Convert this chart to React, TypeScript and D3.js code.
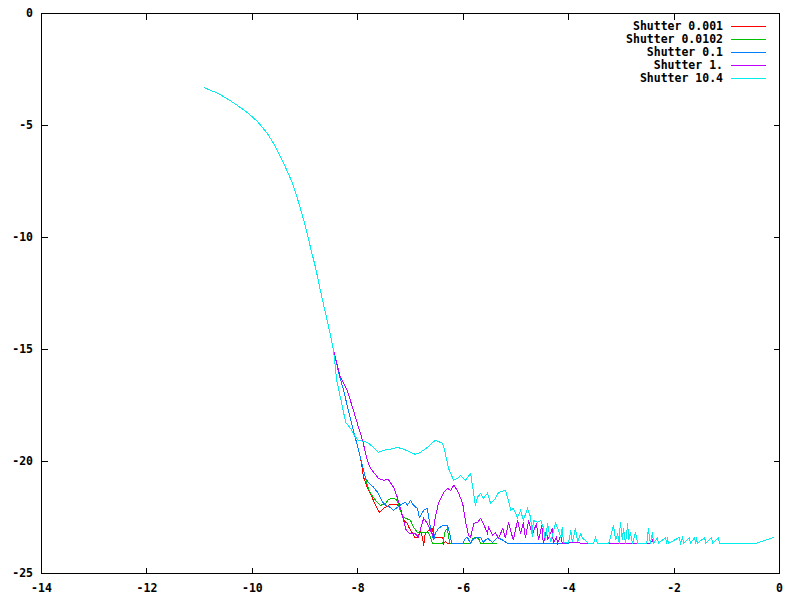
import React from 'react';
import * as d3 from 'd3';

type Pt = [number, number];

const seriesNames = ['Shutter 0.001', 'Shutter 0.0102', 'Shutter 0.1', 'Shutter 1.', 'Shutter 10.4'];
const seriesColors = ['#ff0000', '#00c000', '#0080ff', '#c000ff', '#00eeee'];
const xTickValues = [-14, -12, -10, -8, -6, -4, -2, 0];
const yTickValues = [0, -5, -10, -15, -20, -25];

const commonHead: Pt[] = [
  [-10.91, -3.31], [-10.64, -3.58], [-10.36, -3.98], [-10.09, -4.43], [-9.90, -4.83], [-9.71, -5.37],
  [-9.56, -5.95], [-9.41, -6.66], [-9.24, -7.56], [-9.12, -8.45], [-8.99, -9.53], [-8.90, -10.42],
  [-8.80, -11.36], [-8.67, -12.79], [-8.56, -13.91], [-8.46, -15.03],
];

const rgbJoin: Pt[] = [[-8.35, -16.15], [-8.27, -16.82], [-8.12, -18.29], [-7.95, -19.81]];

const redTail: Pt[] = [
  [-7.89, -20.71], [-7.82, -21.15], [-7.72, -21.65], [-7.66, -21.96], [-7.59, -22.27], [-7.51, -22.09],
  [-7.44, -22.0], [-7.38, -21.91], [-7.28, -21.91], [-7.23, -21.96], [-7.17, -22.32], [-7.13, -22.63],
  [-7.06, -22.76], [-7.02, -22.99], [-6.96, -23.21], [-6.92, -23.39], [-6.87, -23.39], [-6.81, -23.08],
  [-6.77, -23.43], [-6.75, -23.75], [-6.72, -23.21], [-6.66, -23.08], [-6.58, -22.99], [-6.56, -23.39],
  [-6.39, -23.39], [-6.37, -23.66], [-6.34, -23.57], [-6.30, -23.66], [-6.05, -23.66],
];

const greenTail: Pt[] = [
  [-7.85, -20.75], [-7.82, -21.06], [-7.76, -21.42], [-7.66, -21.74], [-7.57, -21.96], [-7.47, -21.87],
  [-7.42, -21.69], [-7.32, -21.65], [-7.25, -21.74], [-7.21, -22.09], [-7.13, -22.5], [-7.08, -22.54],
  [-7.0, -22.63], [-6.94, -22.94], [-6.87, -23.17], [-6.66, -23.17], [-6.62, -23.39], [-6.58, -23.66],
  [-6.39, -23.66], [-6.34, -23.08], [-6.30, -22.99], [-6.26, -23.61], [-6.24, -23.66], [-5.86, -23.66],
  [-5.82, -23.43], [-5.77, -23.39], [-5.71, -23.43], [-5.67, -23.66], [-5.35, -23.66],
];

const blueTail: Pt[] = [
  [-7.85, -20.75], [-7.80, -20.93], [-7.70, -21.15], [-7.61, -21.42], [-7.53, -21.82], [-7.47, -21.96],
  [-7.38, -22.05], [-7.32, -22.18], [-7.25, -22.05], [-7.15, -21.87], [-7.09, -21.82], [-7.06, -21.96],
  [-7.0, -21.74], [-6.94, -21.96], [-6.87, -22.09], [-6.83, -22.5], [-6.75, -22.18], [-6.68, -22.09],
  [-6.66, -22.41], [-6.62, -22.99], [-6.56, -23.52], [-6.53, -23.21], [-6.47, -22.99], [-6.39, -22.85],
  [-6.30, -22.85], [-6.26, -23.17], [-6.22, -23.66], [-6.01, -23.66], [-5.96, -23.43], [-5.92, -23.39],
  [-5.86, -23.66], [-5.80, -23.43], [-5.71, -23.39], [-5.67, -23.39], [-5.62, -23.61], [-5.54, -23.43],
  [-5.44, -23.61], [-5.35, -23.39], [-5.24, -23.52], [-5.16, -23.66], [-4.0, -23.66],
];

const purpleTail: Pt[] = [
  [-8.33, -16.23], [-8.20, -16.82], [-8.10, -17.58], [-8.01, -18.29], [-7.91, -19.05], [-7.82, -19.95],
  [-7.76, -20.3], [-7.70, -20.48], [-7.61, -20.75], [-7.51, -20.84], [-7.42, -20.8], [-7.32, -21.15],
  [-7.25, -21.6], [-7.19, -22.09], [-7.13, -22.63], [-7.08, -23.08], [-7.02, -23.21], [-6.91, -23.21],
  [-6.85, -23.39], [-6.81, -22.99], [-6.75, -22.54], [-6.68, -22.76], [-6.62, -23.08], [-6.58, -23.3],
  [-6.53, -22.5], [-6.47, -21.87], [-6.37, -21.38], [-6.30, -21.2], [-6.24, -21.29], [-6.18, -21.06],
  [-6.11, -21.29], [-6.01, -21.87], [-5.96, -22.63], [-5.90, -23.3], [-5.86, -23.39], [-5.80, -22.76],
  [-5.73, -22.72], [-5.67, -22.54], [-5.62, -22.76], [-5.54, -23.21], [-5.52, -22.94], [-5.44, -23.3],
  [-5.39, -23.17], [-5.33, -23.43], [-5.25, -22.99], [-5.20, -23.43], [-5.14, -22.72], [-5.10, -23.08],
  [-5.05, -23.52], [-4.97, -22.63], [-4.91, -23.21], [-4.86, -22.72], [-4.82, -23.43], [-4.76, -22.63],
  [-4.69, -23.3], [-4.61, -22.76], [-4.57, -23.52], [-4.51, -22.85], [-4.48, -23.66], [-4.42, -23.08],
  [-4.40, -23.52], [-4.31, -22.99], [-4.29, -23.66], [-4.23, -23.39], [-4.21, -23.66], [-4.15, -23.3],
  [-4.12, -23.66], [-3.96, -23.61], [-3.64, -23.66], [-3.53, -23.66], [-3.49, -23.39], [-3.45, -23.66],
  [-2.45, -23.66], [-2.41, -23.5], [-2.39, -23.66],
];

const cyanTail: Pt[] = [
  [-8.40, -16.37], [-8.29, -17.58], [-8.23, -18.25], [-8.14, -18.52], [-8.04, -18.92], [-7.99, -19.05],
  [-7.82, -19.14], [-7.70, -19.37], [-7.61, -19.59], [-7.51, -19.5], [-7.38, -19.45], [-7.25, -19.37],
  [-7.13, -19.45], [-7.0, -19.59], [-6.91, -19.68], [-6.81, -19.59], [-6.68, -19.37], [-6.53, -19.05],
  [-6.39, -19.19], [-6.34, -19.63], [-6.28, -20.3], [-6.24, -20.53], [-6.18, -20.84], [-6.11, -20.75],
  [-6.05, -20.62], [-5.96, -20.84], [-5.86, -20.53], [-5.82, -21.15], [-5.77, -21.96], [-5.73, -21.6],
  [-5.67, -21.42], [-5.62, -21.65], [-5.54, -21.42], [-5.48, -21.87], [-5.39, -21.65], [-5.33, -21.38],
  [-5.20, -21.29], [-5.14, -21.74], [-5.10, -22.18], [-5.05, -22.09], [-4.97, -22.5], [-4.91, -22.18],
  [-4.86, -22.63], [-4.78, -22.09], [-4.72, -22.5], [-4.69, -23.39], [-4.67, -22.63], [-4.59, -22.72],
  [-4.53, -22.63], [-4.48, -22.94], [-4.44, -23.52], [-4.40, -22.76], [-4.34, -23.61], [-4.25, -22.76],
  [-4.19, -23.08], [-4.15, -23.39], [-4.12, -22.94], [-4.10, -23.61], [-4.0, -23.61], [-3.96, -23.08],
  [-3.93, -23.61], [-3.87, -22.99], [-3.83, -23.61], [-3.77, -23.21], [-3.74, -23.43], [-3.68, -23.52],
  [-3.62, -23.66], [-3.53, -23.66], [-3.49, -23.39], [-3.45, -23.66], [-3.24, -23.66], [-3.21, -23.43],
  [-3.15, -22.85], [-3.11, -23.52], [-3.07, -23.21], [-3.04, -23.66], [-3.02, -22.72], [-2.98, -23.52],
  [-2.96, -22.99], [-2.92, -23.66], [-2.88, -22.76], [-2.86, -23.52], [-2.83, -23.17], [-2.79, -23.66],
  [-2.73, -23.17], [-2.69, -23.66], [-2.52, -23.66], [-2.50, -23.39], [-2.49, -22.99], [-2.45, -23.66],
  [-2.41, -23.17], [-2.39, -23.66], [-2.31, -23.39], [-2.30, -23.66], [-2.16, -23.39], [-2.14, -23.66],
  [-2.12, -23.39], [-2.11, -23.66], [-1.90, -23.39], [-1.88, -23.66], [-1.84, -23.39], [-1.82, -23.66],
  [-1.71, -23.39], [-1.69, -23.66], [-1.61, -23.39], [-1.59, -23.66], [-1.57, -23.39], [-1.56, -23.66],
  [-1.42, -23.39], [-1.40, -23.66], [-1.29, -23.39], [-1.27, -23.66], [-1.16, -23.39], [-1.14, -23.66],
  [-0.46, -23.66], [-0.11, -23.39],
];

const seriesData: Pt[][] = [
  [...commonHead, ...rgbJoin, ...redTail],
  [...commonHead, ...rgbJoin, ...greenTail],
  [...commonHead, ...rgbJoin, ...blueTail],
  [...commonHead, ...purpleTail],
  [...commonHead, ...cyanTail],
];

const W = 800;
const H = 600;
const left = 41.5, right = 779.5, top = 13.5, bottom = 573.5;
const FONT = '"DejaVu Sans Mono", "Liberation Mono", monospace';

export default function App() {
  const x = d3.scaleLinear().domain([-14, 0]).range([left, right]);
  const y = d3.scaleLinear().domain([-25, 0]).range([bottom, top]);
  const line = d3.line<Pt>().x((d) => x(d[0])).y((d) => y(d[1]));
  const tick = 6;

  return (
    <svg width={W} height={H} style={{ position: 'absolute', left: 0, top: 0, background: '#fff' }}
      fontFamily={FONT} fontSize={11.5} fontWeight="bold">
      <rect x={0} y={0} width={W} height={H} fill="#fff" />
      <g shapeRendering="crispEdges" stroke="#000" strokeWidth={1}>
        {xTickValues.map((v) => (
          <g key={'xt' + v}>
            <line x1={x(v)} x2={x(v)} y1={bottom} y2={bottom - tick} />
            <line x1={x(v)} x2={x(v)} y1={top} y2={top + tick} />
          </g>
        ))}
        {yTickValues.map((v) => (
          <g key={'yt' + v}>
            <line x1={left} x2={left + tick} y1={y(v)} y2={y(v)} />
            <line x1={right} x2={right - tick} y1={y(v)} y2={y(v)} />
          </g>
        ))}
      </g>
      {xTickValues.map((v) => (
        <text key={'xl' + v} x={x(v)} y={588} textAnchor="middle" dominantBaseline="middle" fill="#000">
          {v}
        </text>
      ))}
      {yTickValues.map((v) => (
        <text key={'yl' + v} x={33} y={y(v)} textAnchor="end" dominantBaseline="middle" fill="#000">
          {v}
        </text>
      ))}
      <g fill="none" strokeWidth={1} shapeRendering="crispEdges">
        {seriesData.map((d, i) => (
          <path key={'s' + i} d={line(d) || ''} stroke={seriesColors[i]} />
        ))}
      </g>
      {seriesNames.map((n, i) => (
        <g key={'lg' + i}>
          <text x={723} y={26 + i * 13} textAnchor="end" dominantBaseline="middle" fill="#000">
            {n}
          </text>
          <line x1={731} x2={766} y1={26.5 + i * 13} y2={26.5 + i * 13} stroke={seriesColors[i]}
            shapeRendering="crispEdges" />
        </g>
      ))}
      <rect x={left} y={top} width={right - left} height={bottom - top} fill="none" stroke="#000"
        strokeWidth={1} shapeRendering="crispEdges" />
    </svg>
  );
}
